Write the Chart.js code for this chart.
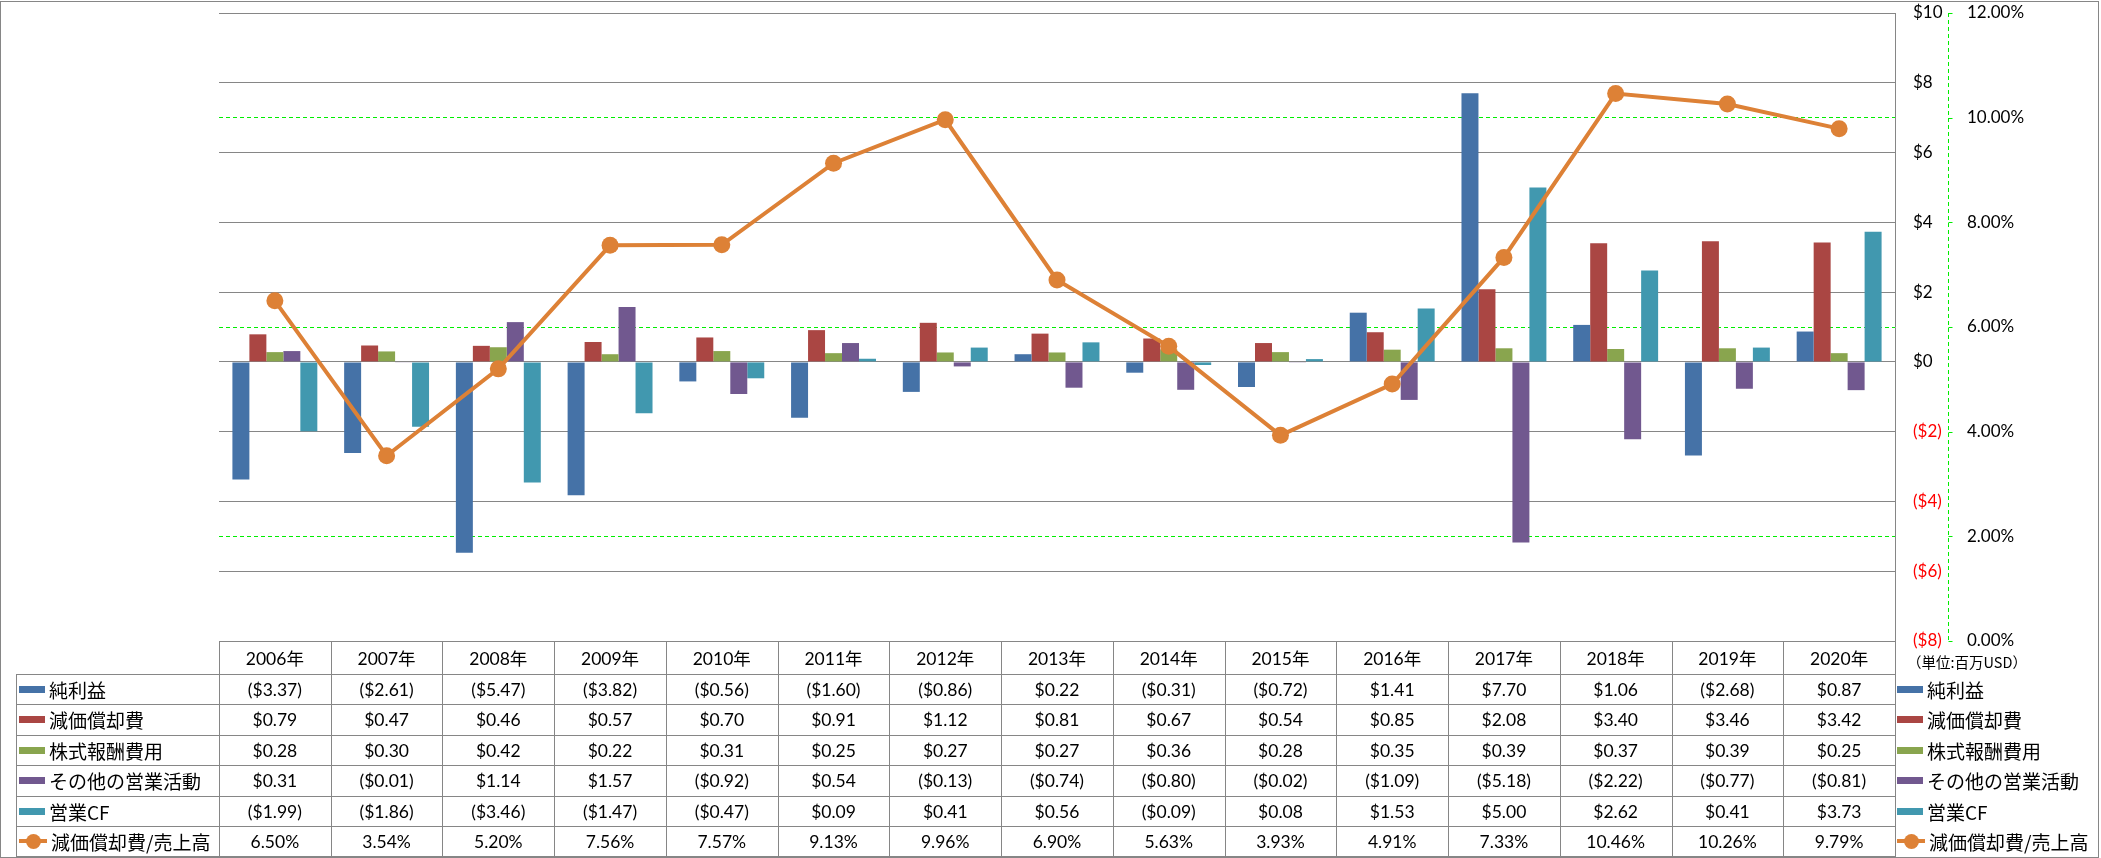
<!DOCTYPE html>
<html><head><meta charset="utf-8">
<script src="https://cdn.jsdelivr.net/npm/chart.js@4.4.1/dist/chart.umd.min.js"></script>
<style>
html,body{margin:0;padding:0;background:#fff;}
#wrap{position:relative;width:2101px;height:858px;overflow:hidden;background:#fff;}
#c{position:absolute;left:0;top:0;}
#frame{position:absolute;left:0;top:1px;width:2099px;height:857px;box-sizing:border-box;border:1px solid #868686;pointer-events:none;}
.ln{position:absolute;background:#868686;}
.cell{position:absolute;display:flex;align-items:center;justify-content:center;font-family:Lato,"Noto Sans CJK JP",sans-serif;font-size:17.5px;color:#000;white-space:nowrap;}
.lab{position:absolute;display:flex;align-items:center;font-family:"Noto Sans CJK JP",sans-serif;font-size:19px;color:#000;white-space:nowrap;}
.sw{display:inline-block;width:26px;height:7px;margin-right:4px;flex:none;}
.lsw{position:relative;display:inline-block;width:28px;height:16px;margin-right:4px;flex:none;}
.lsw .l{position:absolute;left:0;top:6px;width:28px;height:4px;}
.lsw .d{position:absolute;left:6.5px;top:0.5px;width:15px;height:15px;border-radius:50%;}
.unit{position:absolute;font-family:"Noto Sans CJK JP",sans-serif;font-size:14.5px;color:#000;white-space:nowrap;}
</style></head>
<body><div id="wrap"><canvas id="c" width="2101" height="858"></canvas><div id="tbl"></div><div id="frame"></div></div>
<script>
// ---- data ----
const years = ['2006年','2007年','2008年','2009年','2010年','2011年','2012年','2013年','2014年','2015年','2016年','2017年','2018年','2019年','2020年'];
const netIncome    = [-3.37,-2.61,-5.47,-3.82,-0.56,-1.60,-0.86, 0.22,-0.31,-0.72, 1.41, 7.70, 1.06,-2.68, 0.87];
const depreciation = [ 0.79, 0.47, 0.46, 0.57, 0.70, 0.91, 1.12, 0.81, 0.67, 0.54, 0.85, 2.08, 3.40, 3.46, 3.42];
const stockComp    = [ 0.28, 0.30, 0.42, 0.22, 0.31, 0.25, 0.27, 0.27, 0.36, 0.28, 0.35, 0.39, 0.37, 0.39, 0.25];
const otherOps     = [ 0.31,-0.01, 1.14, 1.57,-0.92, 0.54,-0.13,-0.74,-0.80,-0.02,-1.09,-5.18,-2.22,-0.77,-0.81];
const operatingCF  = [-1.99,-1.86,-3.46,-1.47,-0.47, 0.09, 0.41, 0.56,-0.09, 0.08, 1.53, 5.00, 2.62, 0.41, 3.73];
const depRatio     = [ 6.50, 3.54, 5.20, 7.56, 7.57, 9.13, 9.96, 6.90, 5.63, 3.93, 4.91, 7.33,10.46,10.26, 9.79];
const seriesNames  = ['純利益','減価償却費','株式報酬費用','その他の営業活動','営業CF','減価償却費/売上高'];
const dollarTicks  = [-8,-6,-4,-2,0,2,4,6,8,10];
const pctTicks     = [0,2,4,6,8,10,12];
const unitLabel    = '（単位:百万USD）';

// ---- style ----
const COLORS = ['#4572A7','#AA4643','#89A54E','#71588F','#4198AF'];
const ORANGE = '#DD8136';
const GREY = '#868686';
const GREEN = '#00EE00';
const AXFONT = {family:'Lato, "Noto Sans CJK JP", sans-serif', size:17};

const fmtD = v => v < 0 ? '($' + (-v).toFixed(2) + ')' : '$' + v.toFixed(2);
const fmtP = v => v.toFixed(2) + '%';

// dashed secondary axis line with short tick marks
const pctAxisLine = {
  id:'pctAxisLine',
  beforeDatasetsDraw(chart){
    const s = chart.scales.y1, ctx = chart.ctx;
    const x = Math.round(s.left) + 0.5;
    ctx.save();
    ctx.strokeStyle = GREEN; ctx.lineWidth = 1; ctx.setLineDash([4,3]);
    ctx.beginPath(); ctx.moveTo(x, s.top); ctx.lineTo(x, s.bottom); ctx.stroke();
    ctx.setLineDash([]);
    s.ticks.forEach(t=>{
      const y = Math.round(s.getPixelForValue(t.value)) + 0.5;
      ctx.beginPath(); ctx.moveTo(x, y); ctx.lineTo(x + 4, y); ctx.stroke();
    });
    ctx.restore();
  }
};

const barData = [netIncome, depreciation, stockComp, otherOps, operatingCF];
const datasets = [{
  type:'line', label:seriesNames[5], data:depRatio, yAxisID:'y1',
  borderColor:ORANGE, backgroundColor:ORANGE, borderWidth:4,
  pointRadius:8.5, pointHoverRadius:8.5, pointBackgroundColor:ORANGE, pointBorderWidth:0,
  tension:0, order:0
}];
barData.forEach((d,i)=>datasets.push({type:'bar', label:seriesNames[i], data:d, yAxisID:'y', backgroundColor:COLORS[i], borderWidth:0, order:1}));

const chart = new Chart(document.getElementById('c'), {
  data:{labels:years, datasets},
  options:{
    responsive:false, animation:false, devicePixelRatio:1,
    layout:{padding:{left:219, top:13, right:53, bottom:217}},
    plugins:{legend:{display:false}, tooltip:{enabled:false}},
    datasets:{bar:{categoryPercentage:0.76, barPercentage:1.0}},
    scales:{
      x:{display:false},
      y:{position:'right', min:-8, max:10,
         afterBuildTicks(s){ s.ticks = dollarTicks.map(v=>({value:v})); },
         ticks:{padding:0, font:AXFONT,
           color:c => (c.tick && c.tick.value < 0) ? '#FF0000' : '#000000',
           callback:v => v < 0 ? '($' + (-v) + ')' : '$' + v},
         grid:{color:GREY, lineWidth:1, drawTicks:true, tickLength:18, tickColor:'rgba(0,0,0,0)', z:-1},
         border:{display:true, color:GREY},
         afterFit(s){ s.width = 53; }},
      y1:{position:'right', min:0, max:12,
         afterBuildTicks(s){ s.ticks = pctTicks.map(v=>({value:v})); },
         ticks:{padding:0, font:AXFONT, color:'#000000', callback:v => fmtP(v)},
         grid:{color:GREEN, lineWidth:1, drawTicks:true, tickLength:19, tickColor:'rgba(0,0,0,0)', z:-2},
         border:{display:false, dash:[4,3]},
         afterFit(s){ s.width = 100; }}
    }
  },
  plugins:[pctAxisLine]
});

// ---- data table (HTML) aligned with the chart's x scale ----
(function buildTable(){
  const tbl = document.getElementById('tbl');
  const xs = chart.scales.x, area = chart.chartArea;
  const n = years.length;
  const colW = (area.right - area.left) / n;
  const left0 = area.left, right0 = area.right;
  const labLeft = 16;
  const b = Math.round(area.bottom);
  const rowTops = [b, b+33, b+63, b+94, b+124, b+155, b+185];
  const bottom = b + 215;
  const add = (cls, css, html) => { const d = document.createElement('div'); d.className = cls; Object.assign(d.style, css); if (html !== undefined) d.innerHTML = html; tbl.appendChild(d); return d; };
  // horizontal lines
  for (let r = 1; r < rowTops.length; r++) add('ln', {left:labLeft+'px', top:rowTops[r]+'px', width:(right0-labLeft+1)+'px', height:'1px'});
  add('ln', {left:labLeft+'px', top:bottom+'px', width:(right0-labLeft+1)+'px', height:'1px'});
  // vertical lines
  add('ln', {left:labLeft+'px', top:rowTops[1]+'px', width:'1px', height:(bottom-rowTops[1]+1)+'px'});
  for (let k = 0; k <= n; k++) {
    const x = Math.round(left0 + k*colW);
    add('ln', {left:x+'px', top:rowTops[0]+'px', width:'1px', height:(bottom-rowTops[0]+1)+'px'});
  }
  // header
  years.forEach((y,i)=>{
    const cx = xs.getPixelForValue(i);
    add('cell', {left:(cx-colW/2)+'px', width:colW+'px', top:rowTops[0]+'px', height:(rowTops[1]-rowTops[0])+'px'}, y);
  });
  const rowsData = [netIncome, depreciation, stockComp, otherOps, operatingCF, depRatio];
  rowsData.forEach((arr, r)=>{
    const top = rowTops[r+1], h = (r+2 < rowTops.length ? rowTops[r+2] : bottom) - top;
    arr.forEach((v,i)=>{
      const cx = xs.getPixelForValue(i);
      add('cell', {left:(cx-colW/2)+'px', width:colW+'px', top:top+'px', height:h+'px'}, r === 5 ? fmtP(v) : fmtD(v));
    });
    const sw = r < 5 ? '<span class="sw" style="background:'+COLORS[r]+'"></span>'
                     : '<span class="lsw"><span class="l" style="background:'+ORANGE+'"></span><span class="d" style="background:'+ORANGE+'"></span></span>';
    add('lab', {left:(labLeft+3)+'px', top:top+'px', height:h+'px'}, sw + seriesNames[r]);
    add('lab', {left:(right0+2)+'px', top:top+'px', height:h+'px'}, sw + seriesNames[r]);
  });
  add('unit', {left:(right0+12)+'px', top:(b+10)+'px'}, unitLabel);
})();
</script>
</body></html>
